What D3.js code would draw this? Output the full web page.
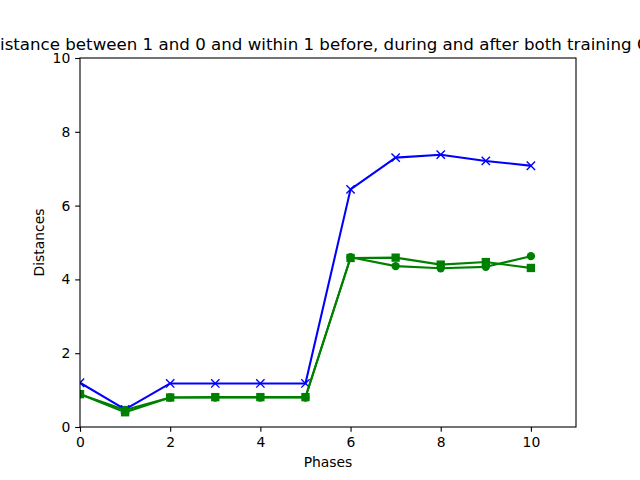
<!DOCTYPE html>
<html><head><meta charset="utf-8">
<script src="https://cdn.jsdelivr.net/npm/d3@7"></script>
<style>body{margin:0;background:#fff}svg{display:block}text{font-family:"DejaVu Sans",sans-serif}</style>
</head><body>
<svg id="c" width="640" height="480"></svg>
<script>
const phases = [0,1,2,3,4,5,6,7,8,9,10];
const betweenDist = [1.20,0.48,1.18,1.18,1.18,1.18,6.44,7.30,7.38,7.21,7.08];
const withinA = [0.89,0.46,0.80,0.80,0.80,0.80,4.60,4.36,4.30,4.34,4.63];
const withinB = [0.89,0.40,0.80,0.81,0.81,0.81,4.58,4.59,4.40,4.47,4.31];
const xTicks = [0,2,4,6,8,10];
const yTicks = [0,2,4,6,8,10];
const titleText = "Distance between 1 and 0 and within 1 before, during and after both training Cycles";

const svg = d3.select("#c");
const L=80,R=576,T=58,B=427;
const x = d3.scaleLinear().domain([0,11]).range([L,R]);
const y = d3.scaleLinear().domain([0,10]).range([B,T]);

const clip = svg.append("defs").append("clipPath").attr("id","cp").append("rect")
  .attr("x",L).attr("y",T).attr("width",R-L).attr("height",B-T);

const g = svg.append("g").attr("clip-path","url(#cp)");
const line = d3.line().x((d,i)=>x(phases[i])).y(d=>y(d));

function series(data,color,marker){
  g.append("path").datum(data).attr("d",line).attr("fill","none")
   .attr("stroke",color).attr("stroke-width",2.08).attr("stroke-linejoin","round").attr("stroke-linecap","square");
  const s=8.33, h=s/2;
  data.forEach((d,i)=>{
    const cx=x(phases[i]), cy=y(d);
    if(marker==="x"){
      g.append("path").attr("d",`M${cx-h},${cy-h}L${cx+h},${cy+h}M${cx-h},${cy+h}L${cx+h},${cy-h}`)
       .attr("stroke",color).attr("stroke-width",1.4).attr("fill","none");
    } else if(marker==="o"){
      g.append("circle").attr("cx",cx).attr("cy",cy).attr("r",h).attr("fill",color);
    } else {
      g.append("rect").attr("x",cx-h).attr("y",cy-h).attr("width",s).attr("height",s).attr("fill",color);
    }
  });
}
series(betweenDist,"#0000ff","x");
series(withinA,"#008000","o");
series(withinB,"#008000","s");

// axes
const xa = svg.append("g").attr("transform",`translate(0,${B})`)
  .call(d3.axisBottom(x).tickValues(xTicks).tickSize(4.86).tickPadding(4.9).tickFormat(d3.format("d")));
const ya = svg.append("g").attr("transform",`translate(${L},0)`)
  .call(d3.axisLeft(y).tickValues(yTicks).tickSize(4.86).tickPadding(4.9).tickFormat(d3.format("d")));
[xa,ya].forEach(a=>{
  a.select(".domain").remove();
  a.selectAll("line").attr("stroke","#000").attr("stroke-width",1.1);
  a.selectAll("text").attr("font-size","13.9px").attr("fill","#000").attr("font-family","DejaVu Sans");
});
svg.append("rect").attr("x",L).attr("y",T).attr("width",R-L).attr("height",B-T)
  .attr("fill","none").attr("stroke","#000").attr("stroke-width",1.1);

svg.append("text").attr("x",(L+R)/2).attr("y",467).attr("text-anchor","middle")
  .attr("font-size","13.9px").text("Phases");
svg.append("text").attr("transform",`translate(44,${(T+B)/2}) rotate(-90)`).attr("text-anchor","middle")
  .attr("font-size","13.9px").text("Distances");

const t = svg.append("text").attr("y",50).attr("font-size","16.67px").text("D");
const dw = t.node().getComputedTextLength();
t.text(titleText).attr("x",-dw);
</script>
</body></html>
